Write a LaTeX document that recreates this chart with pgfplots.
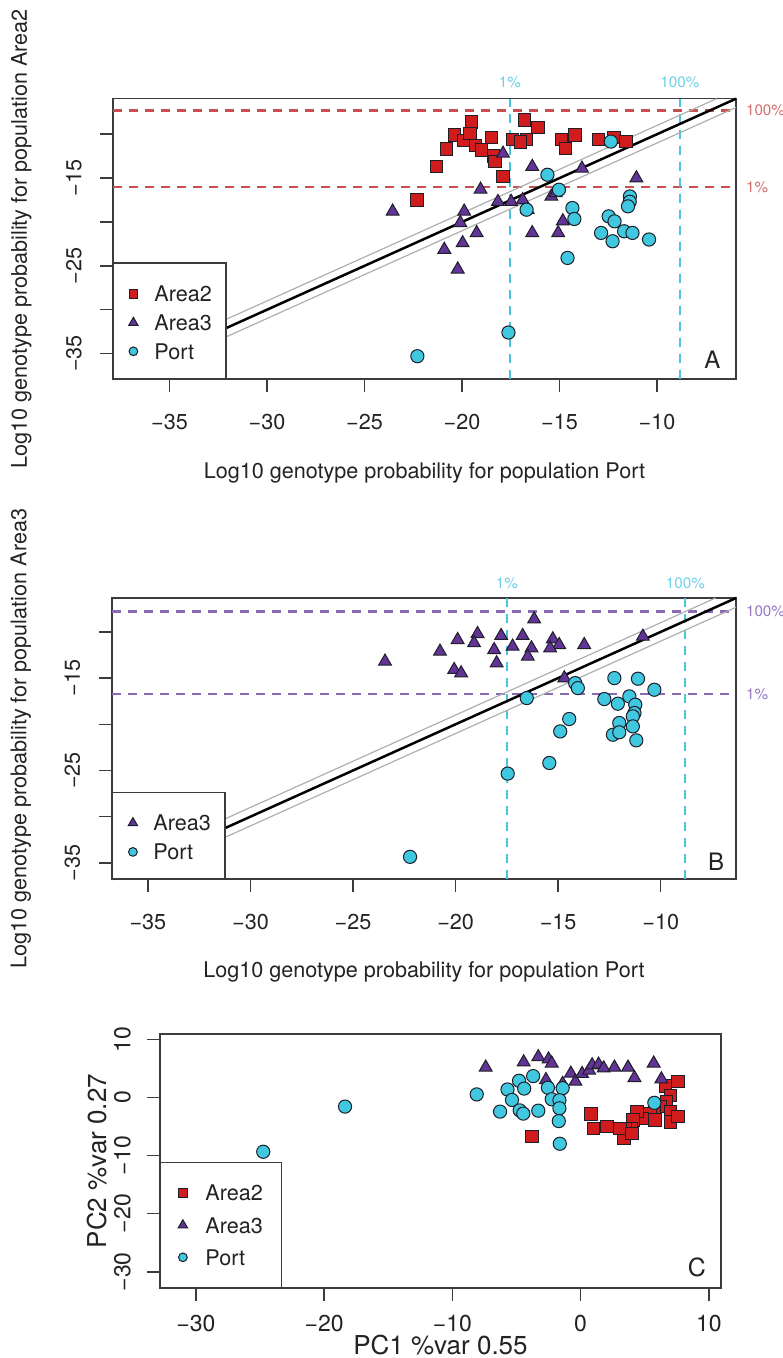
\documentclass[border=0pt]{standalone}
\usepackage{pgfplots}
\pgfplotsset{compat=1.18}
\usepackage{fontspec}
\setmainfont{TeX Gyre Heros}
\definecolor{sqfill}{RGB}{208,28,28}
\definecolor{trifill}{RGB}{98,52,150}
\definecolor{cirfill}{RGB}{64,200,224}
\definecolor{mkedge}{RGB}{30,30,40}
\definecolor{reddash}{RGB}{200,80,80}
\definecolor{redtxt}{RGB}{212,110,110}
\definecolor{cyandash}{RGB}{72,196,222}
\definecolor{cyantxt}{RGB}{110,208,230}
\definecolor{purdash}{RGB}{135,105,180}
\definecolor{purtxt}{RGB}{150,120,195}
\definecolor{txt}{RGB}{35,35,35}
\definecolor{frame}{RGB}{60,60,60}
\definecolor{diaggray}{RGB}{175,175,175}

\newcommand{\fmain}{\fontsize{10.8}{13}\selectfont}
\newcommand{\fsmall}{\fontsize{7.6}{9}\selectfont}
\newcommand{\fbig}{\fontsize{13}{15}\selectfont}

\pgfplotsset{
  rstyle/.style={
    scale only axis,
    clip=false,
    axis line style={frame, line width=0.75pt},
    tick style={frame, line width=0.75pt},
    tick align=outside,
    major tick length=6.5pt,
    tick pos=left,
    font=\fmain,
    tick label style={font=\fmain, text=txt},
    label style={font=\fmain, text=txt},
    xlabel style={at={(axis description cs:0.5,-0.335)}, anchor=center},
    legend cell align=left,
  },
  sq/.style={only marks, mark=square*, mark size=3.1pt, draw=mkedge, fill=sqfill, line width=0.5pt,
     legend image code/.code={\path[draw=none, fill=none] (-5pt,-4pt) rectangle (5pt,4pt); \draw[##1, mark options={scale=0.7}] plot coordinates {(0pt,0pt)};}},
  tri/.style={only marks, mark=triangle*, mark size=3.7pt, draw=mkedge, fill=trifill, line width=0.5pt,
     legend image code/.code={\path[draw=none, fill=none] (-5pt,-4pt) rectangle (5pt,4pt); \draw[##1, mark options={scale=0.72}] plot coordinates {(0pt,0pt)};}},
  cir/.style={only marks, mark=*, mark size=3.3pt, draw=mkedge, fill=cirfill, line width=0.5pt,
     legend image code/.code={\path[draw=none, fill=none] (-5pt,-4pt) rectangle (5pt,4pt); \draw[##1, mark options={scale=0.66}] plot coordinates {(0pt,0pt)};}},
  dashln/.style={dash pattern=on 4.5pt off 3.5pt, line width=1.1pt, forget plot},
}

\begin{document}
\begin{tikzpicture}
\useasboundingbox (0,0) rectangle (391pt,-679pt);

% ================= Panel A =================
\begin{axis}[rstyle,
  at={(56.5pt,-189.5pt)}, anchor=south west,
  width=311.5pt, height=140.15pt,
  xmin=-37.9, xmax=-5.95, ymin=-37.9, ymax=-5.95,
  xtick={-35,-30,-25,-20,-15,-10},
  xticklabels={−35,−30,−25,−20,−15,−10},
  ytick={-35,-30,-25,-20,-15,-10},
  yticklabels={−35,,−25,,−15,},
  xticklabel style={anchor=center, yshift=-14.85pt},
  yticklabel style={anchor=center, xshift=-13pt, rotate=90},
  xlabel={Log10 genotype probability for population Port},
  ylabel={Log10 genotype probability for population Area2},
  ylabel style={at={(axis description cs:-0.147,0.5)}, anchor=center, rotate=0},
  legend style={draw=none, fill=none, at={(axis description cs:0,0)}, anchor=south west,
    xshift=5pt, yshift=9.65pt, inner sep=0pt, row sep=6.35pt, font=\fmain,
    nodes={inner sep=0pt, text height=8pt, text depth=0pt, anchor=west, text=txt},
    /tikz/every odd column/.style={column sep=5.5pt}},
]
\addplot[sq] coordinates {
(-19.5,-8.6) (-16.8,-8.4) (-16.1,-9.2) (-20.4,-10.1) (-19.9,-10.7) (-19.6,-9.9)
(-19.3,-11.3) (-19.0,-11.8) (-18.5,-10.4) (-18.4,-12.5) (-18.3,-13.1) (-17.4,-10.6)
(-16.7,-10.6) (-17.0,-10.9) (-14.9,-10.6) (-14.2,-10.1) (-14.7,-11.6) (-13.0,-10.6)
(-12.2,-10.4) (-11.6,-10.8) (-17.9,-14.8) (-20.8,-11.7) (-21.3,-13.7) (-22.3,-17.5)
};
\addlegendentry{Area2}
\addplot[tri] coordinates {
(-17.9,-12.2) (-16.4,-13.7) (-13.85,-13.9) (-11.06,-15.0) (-19.05,-16.3) (-23.56,-18.8)
(-19.89,-18.8) (-18.16,-17.7) (-17.48,-17.7) (-16.89,-17.5) (-15.42,-17.1) (-15.2,-16.7)
(-16.64,-18.6) (-20.09,-20.1) (-19.25,-21.25) (-14.83,-19.9) (-16.4,-21.25) (-15.07,-21.25)
(-20.91,-23.15) (-19.97,-22.4) (-20.22,-25.4)
};
\addlegendentry{Area3}
\addplot[cir] coordinates {
(-12.37,-10.84) (-15.62,-14.62) (-15.03,-16.33) (-16.69,-18.6) (-14.34,-18.41) (-14.24,-19.66)
(-11.39,-17.09) (-11.4,-17.7) (-11.49,-18.22) (-12.48,-19.36) (-12.18,-19.93) (-12.87,-21.25)
(-11.69,-21.06) (-11.26,-21.25) (-12.28,-22.2) (-10.41,-22.0) (-14.59,-24.1) (-17.62,-32.6)
(-22.29,-35.3)
};
\addlegendentry{Port}
% reference lines
\addplot[reddash, dashln] coordinates {(-37.9,-7.3) (-5.95,-7.3)};
\addplot[reddash, dashln] coordinates {(-37.9,-16.0) (-5.95,-16.0)};
\addplot[cyandash, dashln] coordinates {(-17.55,-37.9) (-17.55,-5.95)};
\addplot[cyandash, dashln] coordinates {(-8.83,-37.9) (-8.83,-5.95)};
\addplot[diaggray, line width=0.6pt, forget plot] coordinates {(-37.9,-36.9) (-6.95,-5.95)};
\addplot[diaggray, line width=0.6pt, forget plot] coordinates {(-36.9,-37.9) (-5.95,-6.95)};
\addplot[black, line width=1.25pt, forget plot] coordinates {(-37.9,-37.9) (-5.95,-5.95)};
\draw[frame, line width=0.75pt, fill=white] (axis description cs:0,0) rectangle (axis description cs:0.1814,0.4138);
\node[text=cyantxt, font=\fsmall] at (axis cs:-17.55,-5.95) [yshift=8pt] {1\%};
\node[text=cyantxt, font=\fsmall] at (axis cs:-8.83,-5.95) [yshift=8pt] {100\%};
\node[text=redtxt, font=\fsmall, anchor=west] at (axis cs:-5.95,-7.3) [xshift=1.5pt] {100\%};
\node[text=redtxt, font=\fsmall, anchor=west] at (axis cs:-5.95,-16.0) [xshift=1.5pt] {1\%};
\node[font=\fontsize{12}{14}\selectfont, text=txt] at (axis description cs:0.962,0.068) {A};
\end{axis}

% ================= Panel B =================
\begin{axis}[rstyle,
  at={(56pt,-439.5pt)}, anchor=south west,
  width=312pt, height=140.5pt,
  xmin=-36.75, xmax=-6.33, ymin=-36.75, ymax=-6.33,
  xtick={-35,-30,-25,-20,-15,-10},
  xticklabels={−35,−30,−25,−20,−15,−10},
  ytick={-35,-30,-25,-20,-15,-10},
  yticklabels={−35,,−25,,−15,},
  xticklabel style={anchor=center, yshift=-14.85pt},
  yticklabel style={anchor=center, xshift=-13.25pt, rotate=90},
  xlabel={Log10 genotype probability for population Port},
  xlabel style={at={(axis description cs:0.5,-0.33)}, anchor=center},
  ylabel={Log10 genotype probability for population Area3},
  ylabel style={at={(axis description cs:-0.146,0.5)}, anchor=center},
  legend style={draw=none, fill=none, at={(axis description cs:0,0)}, anchor=south west,
    xshift=5.25pt, yshift=9.35pt, inner sep=0pt, row sep=6.5pt, font=\fmain,
    nodes={inner sep=0pt, text height=8pt, text depth=0pt, anchor=west, text=txt},
    /tikz/every odd column/.style={column sep=5.25pt}},
]
\addplot[tri] coordinates {
(-16.17,-8.62) (-18.93,-10.21) (-19.9,-10.86) (-19.1,-11.2) (-17.78,-10.42) (-16.73,-10.42)
(-15.26,-10.78) (-14.95,-11.4) (-17.22,-11.58) (-16.3,-11.76) (-15.39,-11.76) (-13.73,-11.4)
(-18.12,-11.94) (-20.76,-12.12) (-16.48,-12.66) (-23.44,-13.2) (-18.0,-13.38) (-20.07,-14.1)
(-19.73,-14.46) (-14.7,-15.0) (-10.87,-10.5)
};
\addlegendentry{Area3}
\addplot[cir] coordinates {
(-12.26,-15.0) (-11.11,-15.07) (-14.17,-15.54) (-14.04,-16.08) (-10.31,-16.26) (-16.53,-17.16)
(-12.75,-17.27) (-11.53,-16.98) (-12.09,-17.77) (-11.24,-17.88) (-11.28,-18.78) (-11.36,-19.14)
(-14.46,-19.43) (-12.02,-19.86) (-11.36,-20.23) (-14.9,-20.77) (-12.33,-21.13) (-12.02,-20.87)
(-11.19,-21.74) (-15.43,-24.19) (-17.46,-25.34) (-22.22,-34.35)
};
\addlegendentry{Port}
\addplot[purdash, dashln] coordinates {(-36.75,-7.8) (-6.33,-7.8)};
\addplot[purdash, dashln] coordinates {(-36.75,-16.7) (-6.33,-16.7)};
\addplot[cyandash, dashln] coordinates {(-17.5,-36.75) (-17.5,-6.33)};
\addplot[cyandash, dashln] coordinates {(-8.8,-36.75) (-8.8,-6.33)};
\addplot[diaggray, line width=0.6pt, forget plot] coordinates {(-36.75,-35.75) (-7.33,-6.33)};
\addplot[diaggray, line width=0.6pt, forget plot] coordinates {(-35.75,-36.75) (-6.33,-7.33)};
\addplot[black, line width=1.25pt, forget plot] coordinates {(-36.75,-36.75) (-6.33,-6.33)};
\draw[frame, line width=0.75pt, fill=white] (axis description cs:0,0) rectangle (axis description cs:0.1811,0.307);
\node[text=cyantxt, font=\fsmall] at (axis cs:-17.5,-6.33) [yshift=7.5pt] {1\%};
\node[text=cyantxt, font=\fsmall] at (axis cs:-8.8,-6.33) [yshift=7.5pt] {100\%};
\node[text=purtxt, font=\fsmall, anchor=west] at (axis cs:-6.33,-7.8) [xshift=1.5pt] {100\%};
\node[text=purtxt, font=\fsmall, anchor=west] at (axis cs:-6.33,-16.7) [xshift=1.5pt] {1\%};
\node[font=\fontsize{12}{14}\selectfont, text=txt] at (axis description cs:0.968,0.062) {B};
\end{axis}

% ================= Panel C =================
\begin{axis}[rstyle,
  at={(80pt,-644pt)}, anchor=south west,
  width=280.5pt, height=127pt,
  xmin=-32.8, xmax=10.95, ymin=-32.8, ymax=10.95,
  xtick={-30,-20,-10,0,10},
  xticklabels={−30,−20,−10,0,10},
  ytick={-30,-20,-10,0,10},
  yticklabels={−30,−20,−10,0,10},
  tick label style={font=\fontsize{11.5}{13}\selectfont, text=txt},
  xticklabel style={anchor=center, yshift=-11pt},
  yticklabel style={anchor=center, xshift=-12.25pt, rotate=90},
  xlabel={PC1 \%var 0.55},
  xlabel style={at={(axis description cs:0.5,-0.2244)}, anchor=center, font=\fbig},
  ylabel={PC2 \%var 0.27},
  ylabel style={at={(axis description cs:-0.1114,0.5)}, anchor=center, font=\fbig},
  legend style={draw=none, fill=none, at={(axis description cs:0,0)}, anchor=south west,
    xshift=6.25pt, yshift=11.15pt, inner sep=0pt, row sep=8.1pt, font=\fmain,
    nodes={inner sep=0pt, text height=8pt, text depth=0pt, anchor=west, text=txt},
    /tikz/every odd column/.style={column sep=6.25pt}},
]
\addplot[sq] coordinates {
(7.6,2.8) (6.6,2.0) (7.0,0.4) (6.7,-0.7) (6.2,-1.55) (5.75,-2.1) (5.4,-2.7) (4.8,-3.56)
(4.4,-2.42) (4.08,-3.85) (3.94,-5.29) (3.5,-5.29) (3.4,-7.0) (3.07,-5.29) (4.0,-6.16)
(2.06,-5.0) (0.99,-5.29) (0.8,-2.85) (-3.8,-6.7) (7.0,-2.42) (7.0,-4.2) (7.6,-3.3) (5.8,-3.85)
};
\addlegendentry{Area2}
\addplot[tri] coordinates {
(-7.4,5.2) (-4.44,6.1) (-3.3,7.0) (-2.5,6.6) (-2.25,5.9) (-2.7,3.05) (-1.4,2.4) (-0.76,4.15)
(-0.4,2.77) (0.12,4.1) (0.66,4.7) (0.9,5.6) (1.4,5.7) (1.8,5.07) (2.64,5.2) (3.7,5.2)
(4.2,3.4) (5.7,5.9) (6.3,3.18)
};
\addlegendentry{Area3}
\addplot[cir] coordinates {
(5.75,-0.9) (-8.1,0.55) (-3.7,3.7) (-4.8,2.9) (-5.7,1.4) (-4.4,1.55) (-5.35,-0.4)
(-4.75,-2.2) (-4.47,-2.76) (-6.28,-2.42) (-3.3,-2.25) (-2.55,1.7) (-1.4,1.62) (-2.25,-0.29)
(-1.65,-0.45) (-1.65,-1.84) (-1.7,-4.05) (-1.62,-7.95) (-18.37,-1.55) (-24.75,-9.33)
};
\addlegendentry{Port}
\draw[frame, line width=0.75pt, fill=white] (axis description cs:0,0) rectangle (axis description cs:0.2166,0.4949);
\node[font=\fontsize{12.5}{14}\selectfont, text=txt] at (axis description cs:0.957,0.083) {C};
\end{axis}
\end{tikzpicture}
\end{document}
